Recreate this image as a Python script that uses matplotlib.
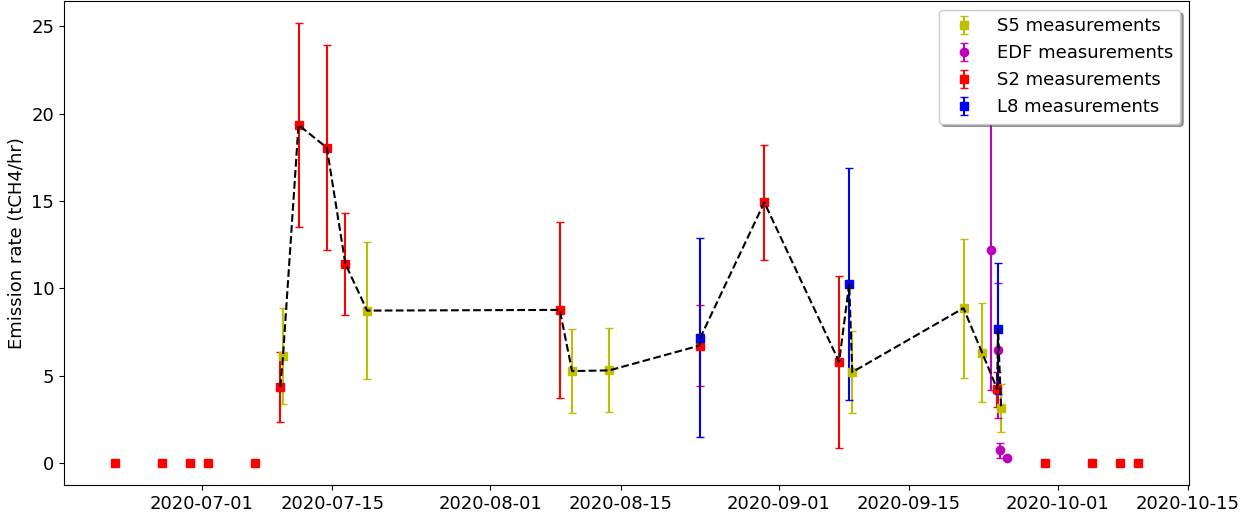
import numpy as np
import pandas as pd
import matplotlib
matplotlib.use("Agg")
import matplotlib.pyplot as plt
import matplotlib.dates as mdates

# Sentinel-2 retrievals (non-zero)
s2_dates = ["2020-07-09 10:00", "2020-07-11 09:00", "2020-07-14 10:00", "2020-07-16 10:00",
            "2020-08-08 11:00", "2020-08-23 12:00", "2020-08-30 11:00", "2020-09-07 12:00",
            "2020-09-24 12:00"]
s2_rate = [4.36, 19.35, 18.05, 11.40, 8.77, 6.73, 14.92, 5.80, 4.24]
s2_err = [2.03, 5.83, 5.88, 2.91, 5.04, 2.33, 3.29, 4.92, 1.0]

# Sentinel-2 overpasses with no plume detected
s2_zero_dates = ["2020-06-21 16:00", "2020-06-26 16:00", "2020-06-29 16:00", "2020-07-01 16:00",
                 "2020-07-06 17:00", "2020-09-29 15:00", "2020-10-04 16:00", "2020-10-07 16:00",
                 "2020-10-09 16:00"]
s2_zero_rate = [0, 0, 0, 0, 0, 0, 0, 0, 0]

# Sentinel-5P
s5_dates = ["2020-07-09 17:00", "2020-07-18 18:00", "2020-08-09 19:00", "2020-08-13 19:00",
            "2020-09-08 22:00", "2020-09-20 21:00", "2020-09-22 21:00", "2020-09-24 22:00"]
s5_rate = [6.12, 8.73, 5.27, 5.31, 5.21, 8.87, 6.32, 3.16]
s5_err = [2.75, 3.93, 2.39, 2.40, 2.35, 3.98, 2.84, 1.39]

# Landsat 8
l8_dates = ["2020-08-23 14:00", "2020-09-08 14:00", "2020-09-24 14:00"]
l8_rate = [7.19, 10.25, 7.69]
l8_err = [5.67, 6.65, 3.74]

# EDF
edf_dates = ["2020-09-23 20:00", "2020-09-24 15:00", "2020-09-24 19:00", "2020-09-25 14:00"]
edf_rate = [12.2, 6.45, 0.74, 0.30]
edf_err = [8.0, 3.86, 0.43, 0.08]

s2_t = pd.to_datetime(s2_dates)
s2z_t = pd.to_datetime(s2_zero_dates)
s5_t = pd.to_datetime(s5_dates)
l8_t = pd.to_datetime(l8_dates)
edf_t = pd.to_datetime(edf_dates)

# satellite time series joined in time order
all_t = np.concatenate([s2_t.values, s5_t.values, l8_t.values])
all_r = np.concatenate([s2_rate, s5_rate, l8_rate])
order = np.argsort(all_t)

fig, ax = plt.subplots(figsize=(12.56, 5.14), dpi=100)
fig.subplots_adjust(left=0.051, right=0.947, bottom=0.056, top=0.998)

ax.errorbar(s5_t, s5_rate, yerr=s5_err, fmt='ys', capsize=3, label='S5 measurements')
ax.errorbar(edf_t, edf_rate, yerr=edf_err, fmt='mo', capsize=3, label='EDF measurements')
ax.errorbar(s2_t, s2_rate, yerr=s2_err, fmt='rs', capsize=3, label='S2 measurements')
ax.errorbar(l8_t, l8_rate, yerr=l8_err, fmt='bs', capsize=3, label='L8 measurements')
ax.plot(s2z_t, s2_zero_rate, 'rs')
ax.plot(all_t[order], all_r[order], 'k--', zorder=5)

ax.xaxis.set_major_locator(mdates.DayLocator(bymonthday=[1, 15]))
ax.xaxis.set_major_formatter(mdates.DateFormatter('%Y-%m-%d'))
ax.tick_params(labelsize=13)
ax.set_ylabel('Emission rate (tCH4/hr)', fontsize=13)
ax.legend(loc='upper right', fontsize=13, shadow=True, framealpha=1)

fig.savefig('out.png')
